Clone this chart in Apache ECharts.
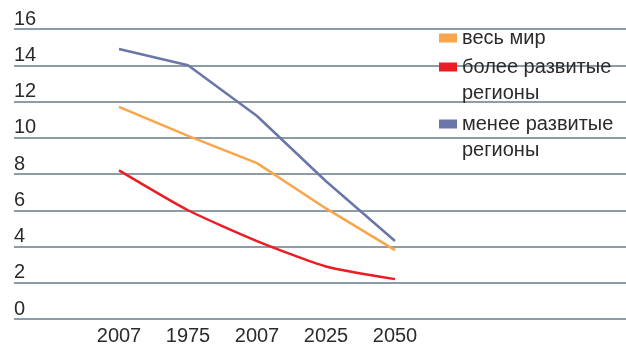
<!DOCTYPE html>
<html>
<head>
<meta charset="utf-8">
<script src="https://cdn.jsdelivr.net/npm/echarts@6/dist/echarts.min.js"></script>
<style>
  html, body { margin: 0; padding: 0; background: #ffffff; }
  #chart { width: 626px; height: 351px; }
</style>
</head>
<body>
<div id="chart"></div>
<script>
// Category labels along the bottom axis
const years = ['2007', '1975', '2007', '2025', '2050'];

// Series values
const worldRate = [11.7, 10.1, 8.6, 6.1, 3.8];
const developedRate = [8.2, 6.0, 4.3, 2.9, 2.2];
const developingRate = [14.9, 14.0, 11.2, 7.6, 4.3];

// Value-axis ticks
const yMin = 0;
const yMax = 16;
const yStep = 2;

// Series names (legend text)
const nameWorld = 'весь мир';
const nameDeveloped = 'более развитые\nрегионы';
const nameDeveloping = 'менее развитые\nрегионы';

const FONT = '"Liberation Sans", Arial, sans-serif';
const TEXT = '#2b2b2b';
const GRID_LINE = '#8d9ca6';
const C_WORLD = '#f9a54b';
const C_DEV = '#ec1c24';
const C_LESS = '#6a76a8';

const chart = echarts.init(document.getElementById('chart'), null, { renderer: 'canvas' });

// One legend block per series so each swatch can sit beside the first line of its text
function legendBlock(name, top) {
  return {
    orient: 'vertical',
    left: 439,
    top: top,
    padding: 0,
    icon: 'rect',
    itemWidth: 18,
    itemHeight: 9,
    selectedMode: false,
    data: [name],
    // a leading blank line keeps the swatch level with the first text line
    formatter: function (n) { return n.indexOf('\n') >= 0 ? '\n' + n : n; },
    textStyle: { fontFamily: FONT, fontSize: 20, color: TEXT, lineHeight: 26 }
  };
}

chart.setOption({
  animation: false,
  backgroundColor: '#ffffff',
  grid: [
    // full-width grid that carries the horizontal rules
    { left: 14, right: 0, top: 29, bottom: 32 },
    // data grid holding the five categories
    { left: 84.5, right: 196.5, top: 29, bottom: 32 }
  ],
  xAxis: [
    { gridIndex: 0, type: 'category', data: years, show: false },
    {
      gridIndex: 1,
      type: 'category',
      data: years,
      boundaryGap: true,
      axisLine: { show: false },
      axisTick: { show: false },
      axisLabel: { fontFamily: FONT, fontSize: 20, color: TEXT, margin: 7, lineHeight: 20 }
    }
  ],
  yAxis: [
    {
      gridIndex: 0,
      type: 'value',
      min: yMin, max: yMax, interval: yStep,
      axisLine: { show: false },
      axisTick: { show: false },
      splitLine: { show: true, lineStyle: { color: GRID_LINE, width: 2 } },
      axisLabel: {
        fontFamily: FONT, fontSize: 20, color: TEXT,
        align: 'left', verticalAlign: 'bottom', margin: 0,
        lineHeight: 20
      }
    },
    {
      gridIndex: 1,
      type: 'value',
      min: yMin, max: yMax, interval: yStep,
      show: false
    }
  ],
  legend: [
    legendBlock(nameWorld, 25),
    legendBlock(nameDeveloped, 28),
    legendBlock(nameDeveloping, 85)
  ],
  series: [
    {
      name: nameWorld, type: 'line', xAxisIndex: 1, yAxisIndex: 1,
      data: worldRate, symbol: 'none', color: C_WORLD,
      lineStyle: { width: 2.5, color: C_WORLD }
    },
    {
      name: nameDeveloped, type: 'line', xAxisIndex: 1, yAxisIndex: 1,
      data: developedRate, symbol: 'none', smooth: 0.2, color: C_DEV,
      lineStyle: { width: 2.5, color: C_DEV }
    },
    {
      name: nameDeveloping, type: 'line', xAxisIndex: 1, yAxisIndex: 1,
      data: developingRate, symbol: 'none', color: C_LESS,
      lineStyle: { width: 2.5, color: C_LESS }
    }
  ]
});
</script>
</body>
</html>
